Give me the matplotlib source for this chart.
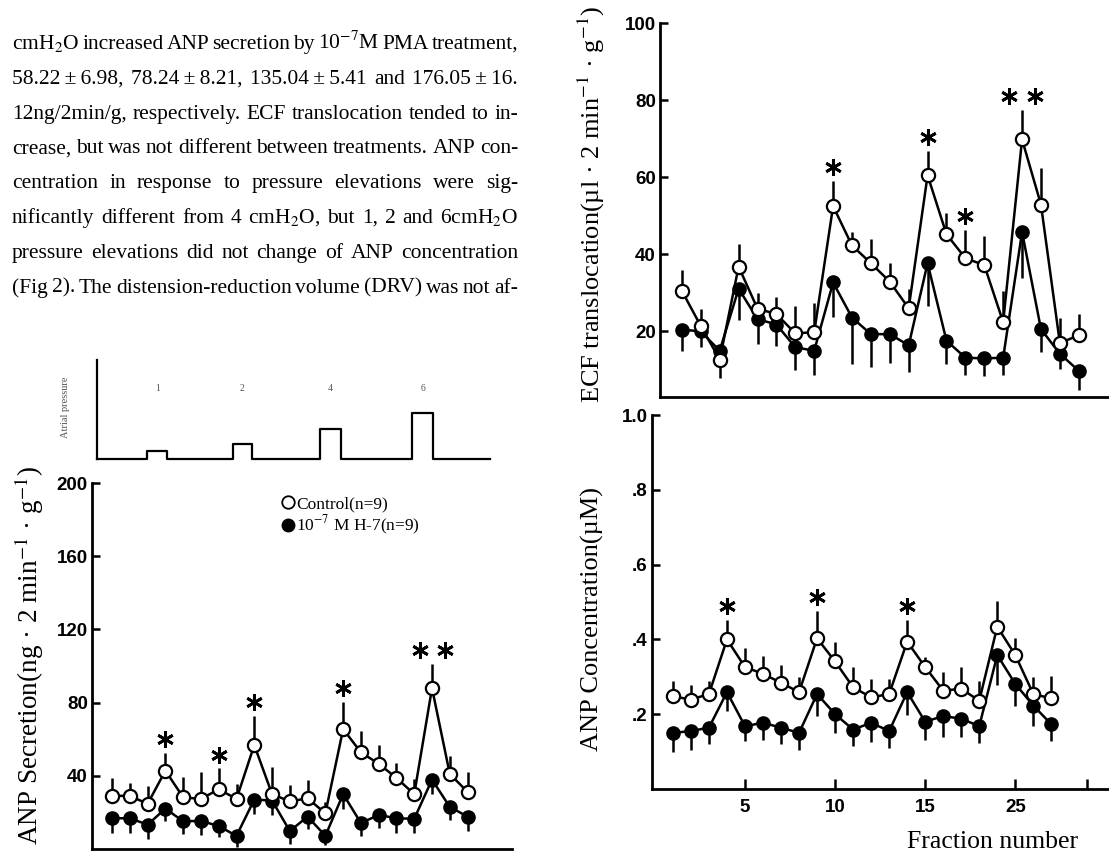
import matplotlib
matplotlib.use("Agg")
import matplotlib.pyplot as plt
from matplotlib.lines import Line2D
from matplotlib.transforms import offset_copy

plt.rcParams['mathtext.fontset'] = 'stix'

W, H = 1109, 857
SERIF = ['Liberation Serif', 'DejaVu Serif']
SANS = 'Liberation Sans'

# text of the page above the figure
para_lines = [
    "cmH$_2$O increased ANP secretion by 10$^{-7}$M PMA treatment,",
    "58.22\u2009±\u20096.98, 78.24\u2009±\u20098.21, 135.04\u2009±\u20095.41 and 176.05\u2009±\u200916.",
    "12ng/2min/g, respectively. ECF translocation tended to in-",
    "crease, but was not different between treatments. ANP con-",
    "centration in response to pressure elevations were sig-",
    "nificantly different from 4 cmH$_2$O, but 1, 2 and 6cmH$_2$O",
    "pressure elevations did not change of ANP concentration",
    "(Fig 2). The distension-reduction volume (DRV) was not af-",
]

# atrial pressure steps (cmH2O), in fraction units
pressure_levels = [1, 2, 4, 6]
step_start = [3.0, 7.8, 12.7, 17.9]
step_end = [4.1, 8.9, 13.9, 19.1]

# ANP secretion (ng/2min/g)
fractions_sec = list(range(1, 22))
sec_control = [29.1, 29.0, 24.7, 42.8, 28.2, 27.4, 32.6, 27.4, 56.8, 30.0, 26.0,
               27.7, 19.5, 65.5, 52.8, 46.6, 38.8, 30.0, 87.9, 41.0, 31.2]
sec_control_err = [9.6, 7.0, 9.6, 9.5, 11.0, 14.5, 11.4, 8.0, 16.0, 15.0, 9.0,
                   10.0, 6.0, 15.0, 11.5, 10.5, 8.0, 8.0, 13.0, 10.0, 11.0]
sec_h7 = [16.8, 16.8, 13.3, 22.1, 15.1, 15.4, 12.5, 7.2, 27.0, 26.5, 9.8,
          17.7, 7.2, 30.0, 14.2, 18.6, 16.8, 16.5, 37.9, 23.0, 17.7]
sec_h7_err = [8, 8, 8, 7, 7, 8, 6, 6, 8, 8, 7, 7, 5, 8, 7, 7, 8, 8, 8, 7, 8]
sec_sig = [4, 7, 9, 14, 19]
sec_sig_marks = [1, 1, 1, 1, 2]

# ECF translocation (ul/2min/g)
fractions = list(range(1, 23))
ecf_control = [30.5, 21.4, 12.7, 36.8, 25.9, 24.5, 19.5, 19.8, 52.5, 42.3, 37.7,
               32.9, 26.0, 60.5, 45.2, 39.0, 37.2, 22.4, 69.8, 52.9, 17.0, 19.0]
ecf_control_err = [5.5, 4.5, 3.0, 6.0, 4.0, 4.5, 7.0, 7.5, 6.5, 3.6, 6.4,
                   4.8, 5.0, 6.4, 5.5, 7.3, 7.5, 8.0, 7.6, 9.4, 6.6, 5.5]
ecf_h7 = [20.5, 20.0, 15.0, 31.1, 23.2, 21.8, 15.9, 15.0, 32.7, 23.6, 19.3,
          19.3, 16.4, 37.7, 17.6, 13.2, 13.0, 13.2, 45.8, 20.6, 14.2, 9.8]
ecf_h7_err = [5.5, 4.0, 7.0, 8.0, 6.4, 5.5, 6.0, 6.4, 9.0, 12.0, 8.5,
              7.5, 7.0, 11.0, 6.0, 4.5, 4.5, 4.5, 12.0, 6.0, 4.0, 5.0]
ecf_sig = [9, 14, 16, 19]
ecf_sig_marks = [1, 1, 1, 2]

# ANP concentration (uM)
conc_control = [0.248, 0.239, 0.254, 0.400, 0.326, 0.308, 0.284, 0.259, 0.403, 0.341, 0.272,
                0.245, 0.254, 0.394, 0.326, 0.263, 0.268, 0.236, 0.434, 0.358, 0.254, 0.242]
conc_control_err = [0.042, 0.038, 0.035, 0.052, 0.05, 0.048, 0.047, 0.04, 0.072, 0.052, 0.054,
                    0.05, 0.04, 0.058, 0.027, 0.05, 0.058, 0.054, 0.068, 0.045, 0.045, 0.06]
conc_h7 = [0.150, 0.155, 0.164, 0.259, 0.168, 0.177, 0.164, 0.150, 0.254, 0.200, 0.159,
           0.177, 0.155, 0.259, 0.180, 0.195, 0.188, 0.168, 0.358, 0.281, 0.223, 0.173]
conc_h7_err = [0.05, 0.05, 0.045, 0.05, 0.04, 0.045, 0.045, 0.045, 0.06, 0.05, 0.045,
               0.05, 0.045, 0.06, 0.05, 0.055, 0.05, 0.045, 0.08, 0.06, 0.055, 0.045]
conc_sig = [4, 9, 14]
conc_sig_marks = [1, 1, 1]

frac_ticks = [5, 10, 15, 20, 24]
frac_tick_labels = ['5', '10', '15', '25', '']

fig = plt.figure(figsize=(W / 100, H / 100), dpi=100)


def px_axes(left, top, right, bottom):
    return fig.add_axes([left / W, 1 - bottom / H, (right - left) / W, (bottom - top) / H])


def style_axes(ax, yticks, ylabels):
    for s in ['top', 'right']:
        ax.spines[s].set_visible(False)
    for s in ['left', 'bottom']:
        ax.spines[s].set_linewidth(2)
    ax.set_yticks(yticks)
    ax.set_yticklabels(ylabels, fontsize=13.5, fontweight='bold', family=SANS)
    ax.tick_params(axis='y', direction='in', length=6, width=1.8, pad=3)
    ax.set_xticks([])


def draw_series(ax, x, ctrl, ctrl_err, h7, h7_err):
    zeros = [0] * len(x)
    ax.errorbar(x, h7, yerr=[h7_err, zeros], fmt='-o', color='black', ms=9.5,
                mfc='black', mec='black', lw=1.8, elinewidth=1.8, capsize=0, zorder=2)
    ax.errorbar(x, ctrl, yerr=[zeros, ctrl_err], fmt='-o', color='black', ms=9.5,
                mfc='white', mec='black', mew=1.6, lw=1.8, elinewidth=1.8, capsize=0, zorder=3)


def draw_stars(ax, x, vals, errs, sig, marks, lift=10, spread=9):
    for f, m in zip(sig, marks):
        i = x.index(f)
        top = vals[i] + errs[i]
        for dx in ([0] if m == 1 else [-spread, spread]):
            tr = offset_copy(ax.transData, fig=fig, x=dx, y=lift, units='points')
            ax.plot([f], [top], marker=(6, 2, 0), ms=12, mew=2, color='black',
                    transform=tr, clip_on=False, zorder=4)


# paragraph, justified between two margins
renderer = fig.canvas.get_renderer()
x0, x1 = 12, 518
for i, line in enumerate(para_lines):
    y = 1 - (49 + i * 34.8) / H
    words = line.split(' ')
    objs = [fig.text(0, y, w, fontsize=15.5, family=SERIF, va='baseline') for w in words]
    widths = [t.get_window_extent(renderer).width for t in objs]
    gap = (x1 - x0 - sum(widths)) / (len(words) - 1)
    xpos = x0
    for t, w in zip(objs, widths):
        t.set_x(xpos / W)
        xpos += w + gap

# ANP secretion panel
ax_sec = px_axes(92, 483, 512, 849)
draw_series(ax_sec, fractions_sec, sec_control, sec_control_err, sec_h7, sec_h7_err)
draw_stars(ax_sec, fractions_sec, sec_control, sec_control_err, sec_sig, sec_sig_marks)
ax_sec.set_xlim(-0.13, 23.5)
ax_sec.set_ylim(0, 200)
style_axes(ax_sec, [40, 80, 120, 160, 200], ['40', '80', '120', '160', '200'])
handles = [Line2D([], [], marker='o', ls='none', ms=9, mfc='white', mec='black', mew=1.3),
           Line2D([], [], marker='o', ls='none', ms=9, mfc='black', mec='black')]
ax_sec.legend(handles, ['Control(n=9)', '10$^{-7}$ M H-7(n=9)'], loc='upper left',
              bbox_to_anchor=(0.424, 1.0), frameon=False, handlelength=0.6,
              handletextpad=0.15, labelspacing=0.12, borderaxespad=0.35,
              prop={'family': SERIF, 'size': 12.5})
fig.text(29 / W, 1 - 656 / H, 'ANP Secretion(ng · 2 min$^{-1}$ · g$^{-1}$)', rotation=90,
         fontsize=19.5, family=SERIF, ha='center', va='center')

# atrial pressure trace
ax_p = px_axes(97, 360, 490, 459)
tx, ty = [0.155], [0]
for s, e, lvl in zip(step_start, step_end, pressure_levels):
    tx += [s, s, e, e]
    ty += [0, lvl, lvl, 0]
    ax_p.text((s + e) / 2, 9.3, str(lvl), fontsize=7, family=SERIF, color='#555555',
              ha='center', va='center')
tx.append(22.3)
ty.append(0)
ax_p.plot(tx, ty, color='black', lw=1.6, clip_on=False)
ax_p.set_xlim(0.155, 22.3)
ax_p.set_ylim(0, 13)
for s in ['top', 'right', 'bottom']:
    ax_p.spines[s].set_visible(False)
ax_p.spines['left'].set_linewidth(1.6)
ax_p.set_xticks([])
ax_p.set_yticks([])
fig.text(65 / W, 1 - 407 / H, 'Atrial pressure', rotation=90, fontsize=7.5,
         family=SERIF, color='#555555', ha='center', va='center')

# ECF translocation panel
ax_ecf = px_axes(660, 23, 1109, 397)
draw_series(ax_ecf, fractions, ecf_control, ecf_control_err, ecf_h7, ecf_h7_err)
draw_stars(ax_ecf, fractions, ecf_control, ecf_control_err, ecf_sig, ecf_sig_marks,
           spread=9.5)
ax_ecf.set_xlim(-0.16, 23.6)
ax_ecf.set_ylim(3, 100)
style_axes(ax_ecf, [20, 40, 60, 80, 100], ['20', '40', '60', '80', '100'])
fig.text(591 / W, 1 - 204 / H, 'ECF translocation(µl · 2 min$^{-1}$ · g$^{-1}$)', rotation=90,
         fontsize=19, family=SERIF, ha='center', va='center')

# ANP concentration panel
ax_c = px_axes(652, 415, 1109, 789)
draw_series(ax_c, fractions, conc_control, conc_control_err, conc_h7, conc_h7_err)
draw_stars(ax_c, fractions, conc_control, conc_control_err, conc_sig, conc_sig_marks)
ax_c.set_xlim(-0.16, 25.2)
ax_c.set_ylim(0, 1.0)
style_axes(ax_c, [0.2, 0.4, 0.6, 0.8, 1.0], ['.2', '.4', '.6', '.8', '1.0'])
ax_c.set_xticks(frac_ticks)
ax_c.set_xticklabels(frac_tick_labels, fontsize=13.5, fontweight='bold', family=SANS)
ax_c.tick_params(axis='x', direction='in', length=7, width=1.8, pad=7)
fig.text(592 / W, 1 - 619 / H, 'ANP Concentration(µM)', rotation=90,
         fontsize=19, family=SERIF, ha='center', va='center')
fig.text(1078 / W, 1 - 842 / H, 'Fraction number', fontsize=18.5, family=SERIF,
         ha='right', va='center')

fig.savefig('out.png', dpi=100)
